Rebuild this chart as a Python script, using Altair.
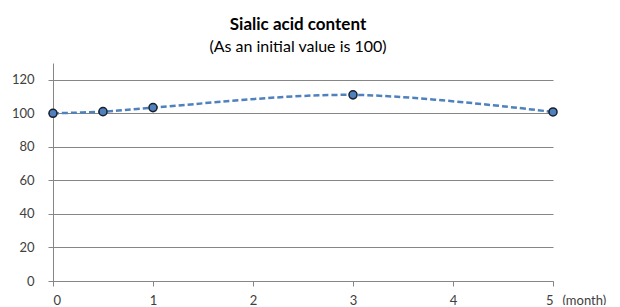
import altair as alt
import pandas as pd

months = [0, 0.5, 1, 3, 5]
values = [100, 101, 103.4, 111, 100.8]
x_ticks = [0, 1, 2, 3, 4, 5]
y_ticks = [0, 20, 40, 60, 80, 100, 120]

df = pd.DataFrame({"month": months, "value": values})

FONT = "Lato"
GRID = "#868686"
TXT = "#404040"

x = alt.X("month:Q", scale=alt.Scale(domain=[0, 5], nice=False),
          axis=alt.Axis(values=x_ticks, format="d", title="(month)", grid=False,
                        domainColor=GRID, tickColor=GRID, tickSize=5,
                        labelFont=FONT, labelFontSize=13, labelColor=TXT, labelPadding=8,
                        titleFont=FONT, titleFontSize=13, titleFontWeight="normal", titleColor=TXT,
                        titleAnchor="start", titleAlign="left", titleBaseline="top",
                        titleX=509, titleY=13))
y = alt.Y("value:Q", scale=alt.Scale(domain=[0, 130], nice=False),
          axis=alt.Axis(values=y_ticks, title=None, grid=True, gridColor=GRID, gridWidth=1,
                        domainColor=GRID, tickColor=GRID, tickSize=5,
                        labelFont=FONT, labelFontSize=13, labelColor=TXT, labelPadding=14))

line = alt.Chart(df).mark_line(interpolate="catmull-rom", color="#4f81bd",
                               strokeWidth=2.5, strokeDash=[6, 3]).encode(x=x, y=y)
pts = alt.Chart(df).mark_point(filled=True, size=65, color="#4f81bd", stroke="#1a1f2b",
                               strokeWidth=1.5, opacity=1).encode(x=x, y=y)

chart = alt.layer(line, pts).properties(
    width=500, height=218,
    autosize=alt.AutoSizeParams(type="none"),
    padding={"left": 45, "top": 55, "right": 58, "bottom": 24},
    title=alt.TitleParams(
        text="Sialic acid content",
        subtitle="(As an initial value is 100)",
        anchor="middle", dx=-5, offset=7,
        font=FONT, fontSize=17, fontWeight="bold", color="#000000",
        subtitleFont=FONT, subtitleFontSize=16, subtitleColor="#000000", subtitlePadding=5,
    ),
).configure_view(stroke=None)

chart.save("out.html", embed_options={"renderer": "svg", "actions": False})
